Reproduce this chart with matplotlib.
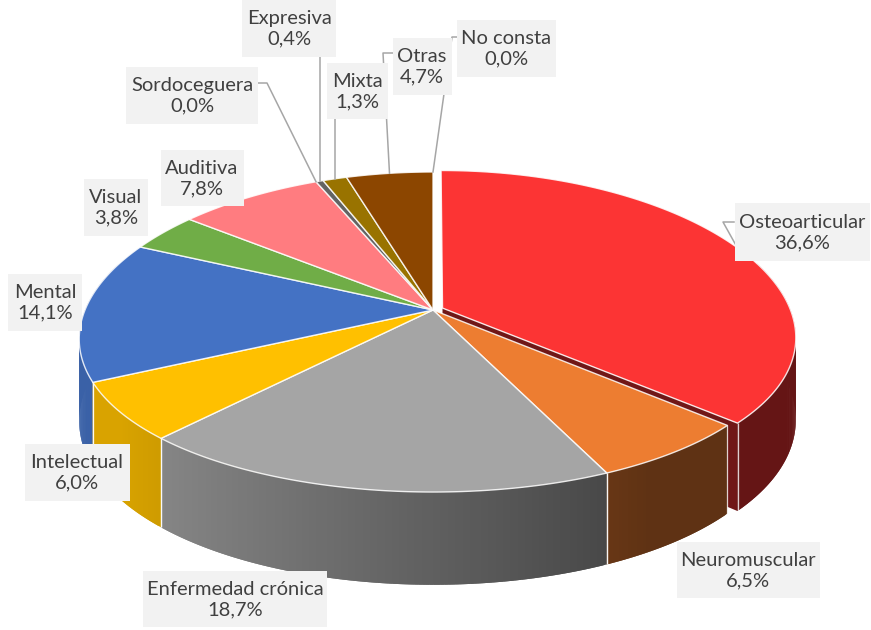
import numpy as np
import matplotlib
matplotlib.use('Agg')
import matplotlib.pyplot as plt
from matplotlib.patches import Polygon, Rectangle
from matplotlib.colors import to_rgb

# ---------------- data ----------------
categories = ['Osteoarticular', 'Neuromuscular', 'Enfermedad crónica', 'Intelectual',
              'Mental', 'Visual', 'Auditiva', 'Sordoceguera', 'Expresiva', 'Mixta',
              'Otras', 'No consta']
values = [36.6, 6.5, 18.7, 6.0, 14.1, 3.8, 7.8, 0.0, 0.4, 1.3, 4.7, 0.0]
colors = ['#FC3434', '#ED7D31', '#A5A5A5', '#FFC000', '#4472C4', '#70AD47',
          '#FF7C80', '#264478', '#636363', '#997300', '#8C4600', '#255E91']
explode = [0.03, 0, 0, 0, 0, 0, 0, 0, 0, 0, 0, 0]

# ---------------- layout (pixels) ----------------
label_boxes = {   # center x, center y, width, height
    'Osteoarticular': (802, 232, 135, 58),
    'Neuromuscular': (748, 570, 143, 56),
    'Enfermedad crónica': (235, 599, 184, 56),
    'Intelectual': (77, 472, 105, 57),
    'Mental': (45, 302, 74, 57),
    'Visual': (116, 207, 64, 57),
    'Auditiva': (202, 178, 83, 56),
    'Sordoceguera': (192, 95, 132, 57),
    'Expresiva': (289, 28, 94, 57),
    'Mixta': (357, 91, 61, 56),
    'Otras': (422, 66, 59, 57),
    'No consta': (506, 48, 99, 57),
}
leaders = {
    'Osteoarticular': [(734, 222), (723, 222)],
    'Sordoceguera': [(258, 83), (267, 83)],
    'Expresiva': 'down',
    'Mixta': 'down',
    'Otras': [(393, 53), (383, 53)],
    'No consta': [(457, 37), (452, 37)],
}

CX, CY = 433, 310
RX, RY = 348, 157
DEPTH = 80
PX, PY = 0.18, 0.1375
START = 90.0


def proj(u, v, h):
    u = np.asarray(u, float)
    v = np.asarray(v, float)
    sx = 1.0 / (1.0 + PX * v)
    sy = 1.0 / (1.0 + PY * v)
    return CX + RX * u * sx, CY - RY * v * sy + DEPTH * h * sy


def shade(u):
    return float(np.clip(0.58 - 0.34 * u, 0.40, 0.85))


fig = plt.figure(figsize=(8.71, 6.30), dpi=100)
ax = fig.add_axes([0, 0, 1, 1])
ax.set_xlim(0, 871)
ax.set_ylim(630, 0)
ax.axis('off')

total = sum(values)
items = []
tops = []
anchors = {}
cum = 0.0
for cat, val, col, ex in zip(categories, values, colors, explode):
    t0 = START - 360.0 * cum / total
    t1 = t0 - 360.0 * val / total
    cum += val
    m = np.radians((t0 + t1) / 2)
    du, dv = ex * np.cos(m), ex * np.sin(m)
    axp, ayp = proj(du + np.cos(m), dv + np.sin(m), 0)
    anchors[cat] = (float(axp), float(ayp))
    if val <= 0:
        continue
    n = max(2, int(abs(t0 - t1) / 0.5) + 1)
    th = np.radians(np.linspace(t0, t1, n))
    u = du + np.cos(th)
    v = dv + np.sin(th)
    topx, topy = proj(u, v, 0)
    botx, boty = proj(u, v, 1)
    ax0, ay0 = proj(du, dv, 0)
    bx0, by0 = proj(du, dv, 1)
    base = np.array(to_rgb(col))
    # outer wall (segments overlap their neighbour to hide seams)
    for k in range(n - 1):
        if np.sin((th[k] + th[k + 1]) / 2) > 0.3:
            continue
        vm = (v[k] + v[k + 1]) / 2
        um = (u[k] + u[k + 1]) / 2
        j = [k, k + 1] + ([k + 2] if k + 2 < n else [])
        poly = [(topx[i], topy[i]) for i in j] + [(botx[i], boty[i]) for i in j[::-1]]
        items.append((vm, 'poly', poly, base * shade(um)))
    # radial faces
    for phi, sign, idx in ((th[0], 1, 0), (th[-1], -1, -1)):
        nv = sign * np.cos(phi)
        if -nv > 0.02:
            poly = [(float(ax0), float(ay0)), (topx[idx], topy[idx]),
                    (botx[idx], boty[idx]), (float(bx0), float(by0))]
            um = du + 0.5 * np.cos(phi)
            vm = dv + 0.5 * np.sin(phi)
            items.append((vm, 'poly', poly, base * shade(um)))
    # vertical edges
    for idx in (0, -1):
        if np.sin(th[idx]) < 0:
            items.append((v[idx] - 0.02, 'line',
                          [(topx[idx], topy[idx]), (botx[idx], boty[idx])], None))
    tops.append((np.r_[ax0, topx], np.r_[ay0, topy], base))

items.sort(key=lambda it: -it[0])
z = 1
for key, kind, data, c in items:
    if kind == 'poly':
        ax.add_patch(Polygon(data, closed=True, facecolor=c, edgecolor='none',
                             lw=0, zorder=z))
    else:
        xs, ys = zip(*data)
        ax.plot(xs, ys, color='white', lw=0.9, alpha=0.8, zorder=z,
                solid_capstyle='butt')
    z += 1

for xs, ys, base in tops:
    ax.add_patch(Polygon(np.c_[xs, ys], closed=True, facecolor=base,
                         edgecolor=(1, 1, 1, 0.85), lw=1.0, zorder=z,
                         joinstyle='round'))
z += 1

# leader lines
for cat, path in leaders.items():
    cx, cy, w, h = label_boxes[cat]
    axp, ayp = anchors[cat]
    if path == 'down':
        pts = [(axp, cy + h / 2), (axp, ayp)]
    else:
        pts = list(path) + [(axp, ayp)]
    xs, ys = zip(*pts)
    ax.plot(xs, ys, color='#A6A6A6', lw=1.1, zorder=z)
z += 1

# labels
for cat, val in zip(categories, values):
    cx, cy, w, h = label_boxes[cat]
    ax.add_patch(Rectangle((cx - w / 2, cy - h / 2), w, h, facecolor='#F2F2F2',
                           edgecolor='none', zorder=z))
    txt = f"{cat}\n{val:.1f}%".replace('.', ',')
    ax.text(cx, cy + 1, txt, ha='center', va='center', multialignment='center',
            fontsize=14.5, family=['Lato', 'DejaVu Sans'], color='#404040',
            linespacing=1.25, zorder=z + 1)
    z += 2

fig.savefig('out.png', dpi=100, facecolor='white')
